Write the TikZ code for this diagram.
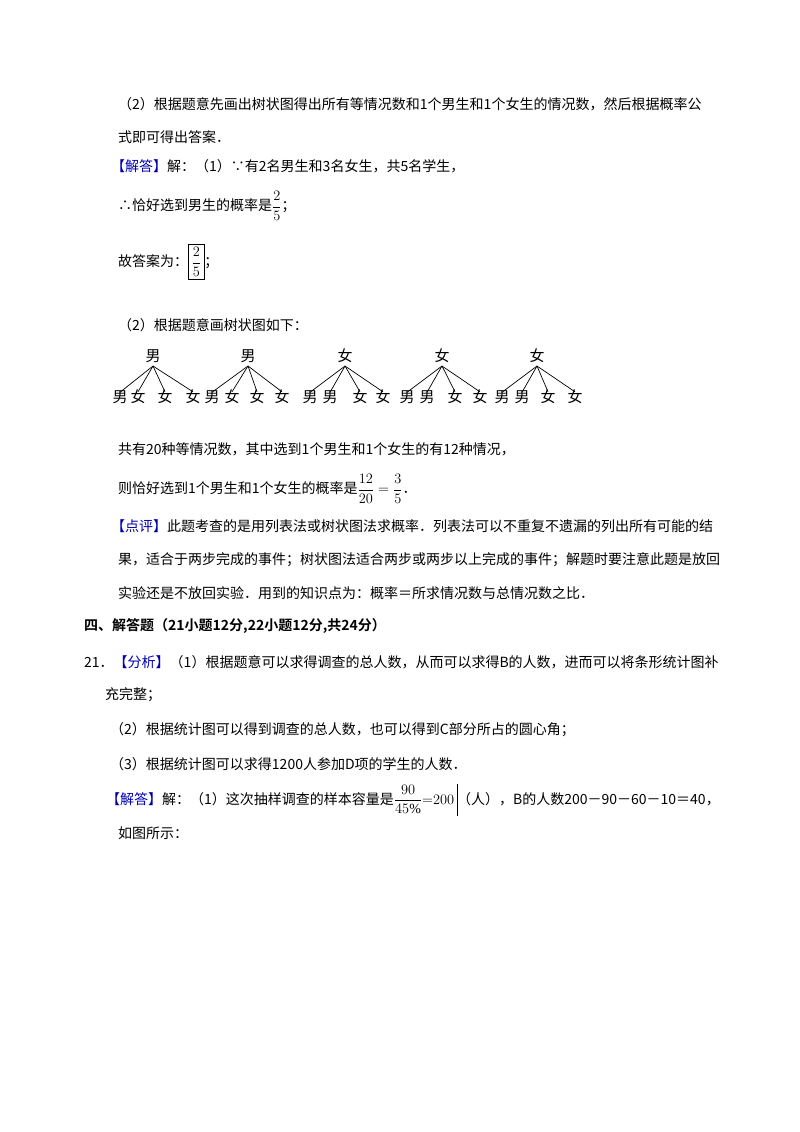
\documentclass[tikz,border=0pt]{standalone}
\usepackage{fontspec}
\setmainfont{Liberation Serif}
\newfontfamily\cjk{Noto Sans CJK SC}
\newfontfamily\cjkb{Noto Sans CJK SC Bold}
\begin{document}
\begin{tikzpicture}[x=1pt,y=-1pt,
  t/.style={anchor=west,inner sep=0pt,font=\fontsize{14}{16}\selectfont\cjk},
  ch/.style={inner sep=0pt,font=\fontsize{15}{16}\selectfont\cjk},
  br/.style={line width=0.7pt}]
\useasboundingbox (0,0) rectangle (800,1132);
\node[t] (l1) at (118,104) {（2）根据题意先画出树状图得出所有等情况数和1个男生和1个女生的情况数，然后根据概率公};
\node[t] (l2) at (118,137) {式即可得出答案．};
\node[t] (l3) at (111,166) {\textcolor{blue!70!black}{【解答】}解：（1）∵有2名男生和3名女生，共5名学生，};
\node[t] (l4) at (118,206) {∴恰好选到男生的概率是$\displaystyle\frac{2}{5}$；};
\node[t] (l5) at (118,262) {故答案为：\fbox{$\displaystyle\frac{2}{5}$}；};
\node[t] (l6) at (118,325) {（2）根据题意画树状图如下：};
% trees
\foreach \r/\rl/\a/\al/\b/\bl/\c/\cl/\d/\dl/\n in {
 153/男/120/男/138/女/165/女/193/女/1,
 248/男/212/男/232/女/257/女/282/女/2,
 345/女/310/男/330/男/360/女/383/女/3,
 442/女/407/男/427/男/455/女/480/女/4,
 537/女/502/男/522/男/548/女/575/女/5}{
  \node[ch] (r\n) at (\r,356) {\rl};
  \node[ch] (a\n) at (\a,397) {\al};
  \node[ch] (b\n) at (\b,397) {\bl};
  \node[ch] (c\n) at (\c,397) {\cl};
  \node[ch] (d\n) at (\d,397) {\dl};
  \coordinate (top\n) at (\r,366);
  \foreach \k in {a,b,c,d}{\draw[br] (top\n) -- ([yshift=-2pt]\k\n.north);}
}
\node[t] (l7) at (118,449) {共有20种等情况数，其中选到1个男生和1个女生的有12种情况，};
\node[t] (l8) at (118,489) {则恰好选到1个男生和1个女生的概率是$\displaystyle\frac{12}{20}=\frac{3}{5}$．};
\node[t] (l9) at (111,526) {\textcolor{blue!70!black}{【点评】}此题考查的是用列表法或树状图法求概率．列表法可以不重复不遗漏的列出所有可能的结};
\node[t] (l10) at (118,560) {果，适合于两步完成的事件；树状图法适合两步或两步以上完成的事件；解题时要注意此题是放回};
\node[t] (l11) at (118,593) {实验还是不放回实验．用到的知识点为：概率＝所求情况数与总情况数之比．};
\node[t,font=\fontsize{14}{16}\selectfont\cjkb] (l12) at (84,626) {四、解答题（21小题12分,22小题12分,共24分）};
\node[t] (l13) at (84,662) {21．\textcolor{blue!70!black}{【分析】}（1）根据题意可以求得调查的总人数，从而可以求得\textit{B}的人数，进而可以将条形统计图补};
\node[t] (l14) at (105,695) {充完整；};
\node[t] (l15) at (110,730) {（2）根据统计图可以得到调查的总人数，也可以得到\textit{C}部分所占的圆心角；};
\node[t] (l16) at (110,764) {（3）根据统计图可以求得1200人参加\textit{D}项的学生的人数．};
\node[t] (l17) at (106,800) {\textcolor{blue!70!black}{【解答】}解：（1）这次抽样调查的样本容量是$\displaystyle\frac{90}{45\%}{=}200$\,\rule[-12pt]{0.5pt}{32pt}（人），\textit{B}的人数200－90－60－10＝40，};
\node[t] (l18) at (118,833) {如图所示：};
\end{tikzpicture}
\end{document}
